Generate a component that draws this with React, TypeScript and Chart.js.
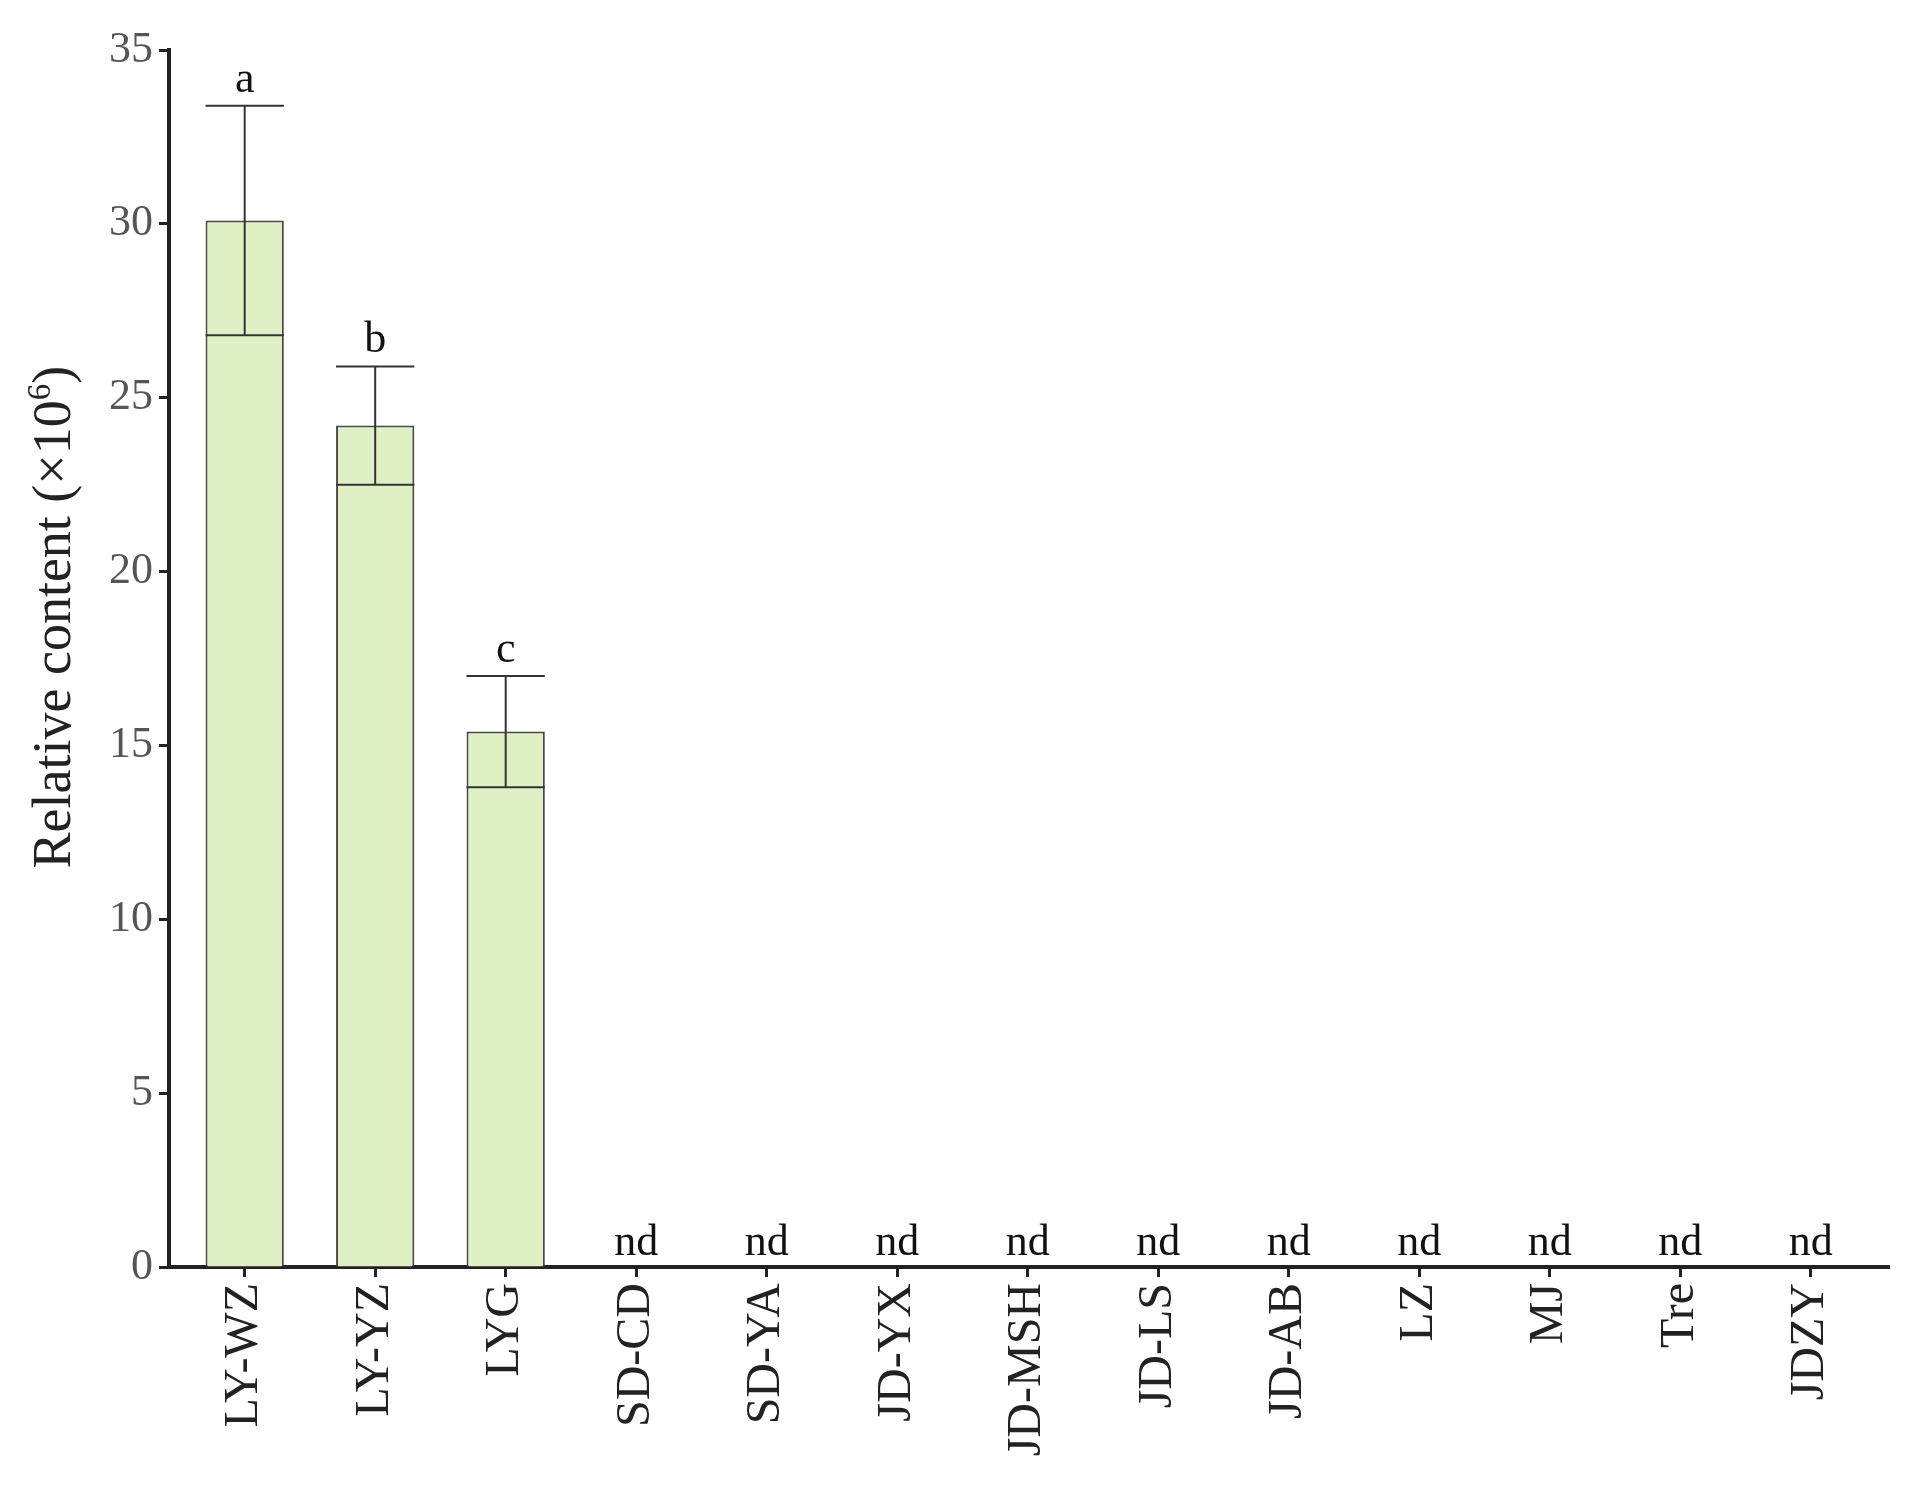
import { useEffect, useRef } from "react";
import { Chart, registerables } from "chart.js";

Chart.register(...registerables);

const categories = ["LY-WZ", "LY-YZ", "LYG", "SD-CD", "SD-YA", "JD-YX", "JD-MSH", "JD-LS", "JD-AB", "LZ", "MJ", "Tre", "JDZY"];
const means: (number | null)[] = [30.1, 24.2, 15.4, null, null, null, null, null, null, null, null, null, null];
const errors: (number | null)[] = [3.3, 1.7, 1.6, null, null, null, null, null, null, null, null, null, null];
const groupLetters = ["a", "b", "c", "nd", "nd", "nd", "nd", "nd", "nd", "nd", "nd", "nd", "nd"];
const yMin = 0;
const yMax = 35;
const yStep = 5;
const yTitleMain = "Relative content (×10";
const yTitleSup = "6";
const yTitleEnd = ")";

const SERIF = "'Liberation Serif', 'Times New Roman', serif";

const annotationsPlugin = {
  id: "annotations",
  afterDatasetsDraw(chart: any) {
    const ctx = chart.ctx;
    const xs = chart.scales.x;
    const ys = chart.scales.y;
    const meta = chart.getDatasetMeta(0);
    ctx.save();
    // error bars
    ctx.strokeStyle = "#333333";
    ctx.lineWidth = 2;
    means.forEach((m, i) => {
      const e = errors[i];
      if (m == null || e == null) return;
      const el = meta.data[i];
      const x = el.x;
      const hw = el.width / 2;
      const yt = ys.getPixelForValue(m + e);
      const yb = ys.getPixelForValue(m - e);
      ctx.beginPath();
      ctx.moveTo(x, yt);
      ctx.lineTo(x, yb);
      ctx.moveTo(x - hw, yt);
      ctx.lineTo(x + hw, yt);
      ctx.moveTo(x - hw, yb);
      ctx.lineTo(x + hw, yb);
      ctx.stroke();
    });
    // letters
    ctx.fillStyle = "#111111";
    ctx.font = `44px ${SERIF}`;
    ctx.textAlign = "center";
    ctx.textBaseline = "alphabetic";
    groupLetters.forEach((t, i) => {
      const m = means[i];
      const e = errors[i];
      const x = xs.getPixelForValue(i);
      let y: number;
      if (m == null) {
        y = ys.getPixelForValue(0) - 12;
      } else {
        y = ys.getPixelForValue(m + (e || 0)) - 14;
      }
      ctx.fillText(t, x, y);
    });
    ctx.restore();
  },
  afterDraw(chart: any) {
    const ctx = chart.ctx;
    const ca = chart.chartArea;
    ctx.save();
    const mainFont = `54px ${SERIF}`;
    const supFont = `33px ${SERIF}`;
    ctx.font = mainFont;
    const w1 = ctx.measureText(yTitleMain).width;
    const w3 = ctx.measureText(yTitleEnd).width;
    ctx.font = supFont;
    const w2 = ctx.measureText(yTitleSup).width;
    const total = w1 + w2 + w3;
    const cx = 48;
    const cy = ca.top + (ca.bottom - ca.top) * 0.466;
    ctx.translate(cx, cy);
    ctx.rotate(-Math.PI / 2);
    ctx.fillStyle = "#222222";
    ctx.textAlign = "left";
    ctx.textBaseline = "middle";
    let x0 = -total / 2;
    ctx.font = mainFont;
    ctx.fillText(yTitleMain, x0, 0);
    x0 += w1;
    ctx.font = supFont;
    ctx.fillText(yTitleSup, x0, -15);
    x0 += w2;
    ctx.font = mainFont;
    ctx.fillText(yTitleEnd, x0, 0);
    ctx.restore();
  },
};

export default function App() {
  const ref = useRef<HTMLCanvasElement | null>(null);
  useEffect(() => {
    if (!ref.current) return;
    const chart = new Chart(ref.current, {
      type: "bar",
      data: {
        labels: categories,
        datasets: [
          {
            data: means as any,
            backgroundColor: "#dff0c4",
            borderColor: "#4a4a4a",
            borderWidth: 2,
            categoryPercentage: 1,
            barPercentage: 0.6,
          },
        ],
      },
      options: {
        animation: false,
        responsive: false,
        maintainAspectRatio: false,
        layout: { padding: { top: 42, right: 26, left: 0, bottom: 0 } },
        plugins: {
          legend: { display: false },
          tooltip: { enabled: false },
          title: { display: false },
        },
        scales: {
          x: {
            type: "category",
            offset: true,
            afterBuildTicks: (s: any) => {
              s._startValue = -0.58;
              s._valueRange = categories.length + 0.18;
            },
            afterFit: (s: any) => {
              s.height = 201;
            },
            border: { display: true, color: "#222222", width: 4 },
            grid: {
              display: true,
              offset: false,
              drawOnChartArea: false,
              drawTicks: true,
              tickLength: 10,
              tickColor: "#222222",
              tickWidth: 3,
            },
            ticks: {
              autoSkip: false,
              maxRotation: 90,
              minRotation: 90,
              padding: 6,
              color: "#222222",
              font: { family: SERIF, size: 48 },
            },
          },
          y: {
            min: yMin,
            max: yMax,
            afterFit: (s: any) => {
              s.width = 161;
            },
            border: { display: true, color: "#222222", width: 4 },
            grid: {
              display: true,
              drawOnChartArea: false,
              drawTicks: true,
              tickLength: 10,
              tickColor: "#222222",
              tickWidth: 3,
            },
            ticks: {
              stepSize: yStep,
              padding: 6,
              color: "#555555",
              font: { family: SERIF, size: 44 },
            },
          },
        },
      },
      plugins: [annotationsPlugin],
    });
    return () => chart.destroy();
  }, []);
  return (
    <div style={{ width: 1907, height: 1460 }}>
      <canvas ref={ref} width={1907} height={1460} style={{ display: "block", width: 1907, height: 1460 }} />
    </div>
  );
}
